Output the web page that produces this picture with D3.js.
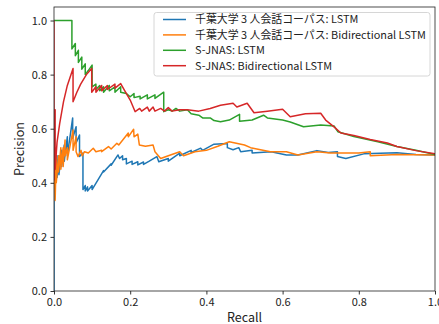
<!DOCTYPE html>
<html>
<head>
<meta charset="utf-8">
<script src="https://cdn.jsdelivr.net/npm/d3@7"></script>
<style>
  html, body { margin: 0; padding: 0; background: #fff; }
  svg text { font-family: "Noto Sans CJK JP", "DejaVu Sans", sans-serif; }
</style>
</head>
<body>
<svg id="chart"></svg>
<script>
// [recall, precision] pairs
const chibaLstm = [[0,0],[0,0.36],[0.004,0.5],[0.004,0.4],[0.008,0.5],[0.008,0.42],[0.013,0.5],[0.013,0.43],[0.02,0.52],[0.02,0.46],[0.027,0.54],[0.027,0.48],[0.035,0.57],[0.035,0.5],[0.049,0.64],[0.049,0.565],[0.058,0.607],[0.058,0.547],[0.067,0.577],[0.067,0.497],[0.076,0.51],[0.076,0.375],[0.082,0.39],[0.082,0.37],[0.088,0.385],[0.088,0.37],[0.1,0.39],[0.1,0.375],[0.13,0.445],[0.13,0.44],[0.15,0.47],[0.15,0.465],[0.168,0.503],[0.172,0.49],[0.18,0.5],[0.18,0.485],[0.19,0.49],[0.19,0.47],[0.205,0.48],[0.205,0.468],[0.22,0.478],[0.22,0.466],[0.235,0.477],[0.235,0.468],[0.25,0.48],[0.27,0.497],[0.275,0.478],[0.3,0.49],[0.3,0.48],[0.33,0.51],[0.33,0.5],[0.36,0.52],[0.36,0.512],[0.385,0.528],[0.39,0.52],[0.42,0.543],[0.455,0.545],[0.455,0.53],[0.47,0.522],[0.485,0.53],[0.49,0.515],[0.52,0.52],[0.52,0.51],[0.57,0.515],[0.61,0.503],[0.64,0.503],[0.69,0.519],[0.72,0.512],[0.744,0.515],[0.744,0.497],[0.766,0.49],[0.813,0.507],[0.9,0.511],[0.95,0.505],[1,0.503]];
const chibaBiLstm = [[0,0.5],[0.003,0.335],[0.006,0.5],[0.006,0.4],[0.012,0.5],[0.012,0.44],[0.018,0.53],[0.018,0.45],[0.024,0.53],[0.024,0.46],[0.029,0.558],[0.029,0.5],[0.035,0.53],[0.035,0.485],[0.05,0.595],[0.05,0.52],[0.058,0.57],[0.058,0.515],[0.063,0.497],[0.071,0.52],[0.074,0.5],[0.08,0.515],[0.09,0.51],[0.103,0.528],[0.11,0.515],[0.125,0.52],[0.125,0.515],[0.143,0.534],[0.15,0.525],[0.165,0.546],[0.17,0.54],[0.195,0.584],[0.195,0.57],[0.209,0.598],[0.21,0.57],[0.22,0.58],[0.224,0.54],[0.24,0.535],[0.26,0.54],[0.265,0.515],[0.28,0.49],[0.3,0.5],[0.33,0.515],[0.34,0.5],[0.37,0.515],[0.4,0.52],[0.43,0.535],[0.46,0.552],[0.5,0.54],[0.516,0.53],[0.568,0.515],[0.61,0.515],[0.64,0.503],[0.69,0.515],[0.726,0.51],[0.8,0.51],[0.83,0.515],[0.83,0.5],[0.9,0.505],[1,0.503]];
const sjnasLstm = [[0,1],[0.047,1],[0.047,0.895],[0.056,0.915],[0.056,0.87],[0.064,0.89],[0.064,0.845],[0.073,0.865],[0.073,0.82],[0.082,0.84],[0.082,0.8],[0.09,0.815],[0.1,0.835],[0.1,0.755],[0.11,0.765],[0.11,0.745],[0.12,0.76],[0.12,0.74],[0.13,0.755],[0.13,0.735],[0.145,0.76],[0.145,0.74],[0.16,0.755],[0.16,0.735],[0.175,0.755],[0.175,0.735],[0.19,0.73],[0.2,0.718],[0.21,0.73],[0.21,0.715],[0.226,0.72],[0.226,0.71],[0.245,0.725],[0.245,0.71],[0.265,0.725],[0.265,0.712],[0.288,0.735],[0.288,0.663],[0.3,0.67],[0.31,0.665],[0.32,0.675],[0.33,0.665],[0.35,0.67],[0.36,0.655],[0.38,0.65],[0.39,0.64],[0.41,0.64],[0.42,0.63],[0.437,0.626],[0.46,0.632],[0.487,0.653],[0.487,0.628],[0.52,0.632],[0.55,0.65],[0.56,0.64],[0.6,0.632],[0.62,0.625],[0.655,0.607],[0.7,0.614],[0.735,0.61],[0.745,0.589],[0.787,0.571],[0.85,0.552],[0.9,0.534],[0.95,0.52],[1,0.505]];
const sjnasBiLstm = [[0,1],[0,0.41],[0.003,0.67],[0.003,0.45],[0.008,0.55],[0.015,0.62],[0.025,0.7],[0.035,0.76],[0.05,0.823],[0.05,0.7],[0.06,0.735],[0.07,0.765],[0.085,0.8],[0.099,0.823],[0.099,0.735],[0.11,0.755],[0.11,0.735],[0.125,0.76],[0.125,0.74],[0.14,0.76],[0.14,0.745],[0.16,0.765],[0.16,0.75],[0.175,0.767],[0.187,0.737],[0.2,0.706],[0.213,0.663],[0.225,0.675],[0.23,0.665],[0.245,0.68],[0.25,0.665],[0.26,0.68],[0.265,0.665],[0.28,0.675],[0.29,0.665],[0.3,0.678],[0.31,0.665],[0.33,0.67],[0.35,0.67],[0.38,0.665],[0.41,0.675],[0.437,0.687],[0.47,0.694],[0.48,0.68],[0.507,0.694],[0.525,0.659],[0.56,0.665],[0.6,0.672],[0.62,0.644],[0.66,0.655],[0.7,0.657],[0.713,0.632],[0.735,0.607],[0.753,0.584],[0.787,0.575],[0.83,0.56],[0.875,0.547],[0.9,0.534],[0.95,0.519],[1,0.507]];

const seriesNames = ['千葉大学 3 人会話コーパス: LSTM', '千葉大学 3 人会話コーパス: Bidirectional LSTM', 'S-JNAS: LSTM', 'S-JNAS: Bidirectional LSTM'];
const seriesColors = ['#1f77b4', '#ff7f0e', '#2ca02c', '#d62728'];
const xTicks = [0, 0.2, 0.4, 0.6, 0.8, 1.0];
const yTicks = [0, 0.2, 0.4, 0.6, 0.8, 1.0];

const width = 439;
const height = 324;
const margin = {top: 7, right: 4, bottom: 33, left: 54};

const svg = d3.select('#chart')
  .attr('width', width)
  .attr('height', height);

const x = d3.scaleLinear()
  .domain([0, 1])
  .range([margin.left, width - margin.right]);

const y = d3.scaleLinear()
  .domain([0, 1.05])
  .range([height - margin.bottom, margin.top]);

const allSeries = [chibaLstm, chibaBiLstm, sjnasLstm, sjnasBiLstm];

const plot = svg.append('g');
plot.append('clipPath').attr('id', 'clip')
  .append('rect')
  .attr('x', margin.left).attr('y', margin.top)
  .attr('width', width - margin.left - margin.right)
  .attr('height', height - margin.top - margin.bottom);

const line = d3.line().x(d => x(d[0])).y(d => y(d[1]));

plot.append('g')
  .attr('clip-path', 'url(#clip)')
  .selectAll('path')
  .data(allSeries)
  .join('path')
  .attr('fill', 'none')
  .attr('stroke', (d, i) => seriesColors[i])
  .attr('stroke-width', 1.5)
  .attr('stroke-linejoin', 'round')
  .attr('d', line);

// axes
const xAxis = g => g
  .attr('transform', `translate(0,${height - margin.bottom})`)
  .call(d3.axisBottom(x).tickValues(xTicks).tickFormat(d3.format('.1f')).tickSize(3.5).tickPadding(3.5))
  .call(g => g.select('.domain').remove());

const yAxis = g => g
  .attr('transform', `translate(${margin.left},0)`)
  .call(d3.axisLeft(y).tickValues(yTicks).tickFormat(d3.format('.1f')).tickSize(3.5).tickPadding(3.5))
  .call(g => g.select('.domain').remove());

svg.append('g').call(xAxis)
  .attr('font-size', 11)
  .call(g => g.selectAll('text').attr('fill', '#222'))
  .call(g => g.selectAll('line').attr('stroke-width', 0.8));

svg.append('g').call(yAxis)
  .attr('font-size', 11)
  .call(g => g.selectAll('text').attr('fill', '#222'))
  .call(g => g.selectAll('line').attr('stroke-width', 0.8));

// frame
svg.append('rect')
  .attr('x', margin.left).attr('y', margin.top)
  .attr('width', width - margin.left - margin.right)
  .attr('height', height - margin.top - margin.bottom)
  .attr('fill', 'none')
  .attr('stroke', '#222')
  .attr('stroke-width', 0.8);

svg.append('text')
  .attr('x', (x(0) + x(1)) / 2)
  .attr('y', height - 2.5)
  .attr('text-anchor', 'middle')
  .attr('font-size', 12.5)
  .attr('fill', '#222')
  .text('Recall');

svg.append('text')
  .attr('transform', `translate(24,${(y(0) + y(1.05)) / 2}) rotate(-90)`)
  .attr('text-anchor', 'middle')
  .attr('font-size', 12.5)
  .attr('fill', '#222')
  .text('Precision');

// legend
const legend = svg.append('g').attr('transform', 'translate(154,12.5)');
legend.append('rect')
  .attr('width', 276).attr('height', 63.5)
  .attr('rx', 2.5)
  .attr('fill', 'white').attr('fill-opacity', 0.8)
  .attr('stroke', '#ccc').attr('stroke-width', 0.8);

const item = legend.selectAll('g.item')
  .data(seriesNames)
  .join('g')
  .attr('class', 'item')
  .attr('transform', (d, i) => `translate(0,${7 + i * 15.4})`);

item.append('line')
  .attr('x1', 9).attr('x2', 32)
  .attr('stroke', (d, i) => seriesColors[i])
  .attr('stroke-width', 1.5);

item.append('text')
  .attr('x', 41)
  .attr('dy', '0.35em')
  .attr('font-size', 10.9)
  .attr('fill', '#222')
  .text(d => d);
</script>
</body>
</html>
